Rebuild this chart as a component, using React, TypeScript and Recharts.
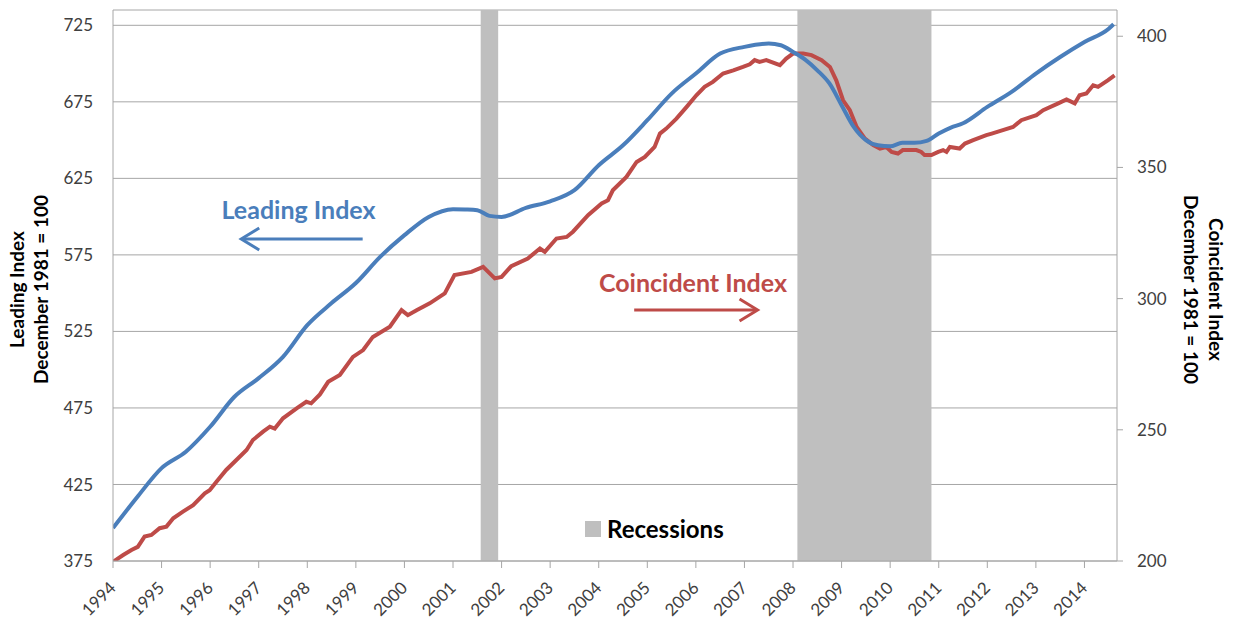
import React from 'react'
import {
  ComposedChart,
  Line,
  XAxis,
  YAxis,
  CartesianGrid,
  ReferenceArea,
  ReferenceLine,
  ReferenceDot,
  Legend,
} from 'recharts'

// Leading index (left axis), sampled dates as fractional years
const leadYears = [
  1994, 1994.5, 1995, 1995.5, 1996, 1996.5, 1997, 1997.5, 1998, 1998.5, 1999, 1999.5,
  2000, 2000.5, 2001, 2001.25, 2001.5, 2001.75, 2002, 2002.5, 2003, 2003.5, 2004, 2004.5,
  2005, 2005.5, 2006, 2006.5, 2007, 2007.5, 2007.75, 2008, 2008.25, 2008.5, 2008.75,
  2009, 2009.25, 2009.5, 2009.75, 2010, 2010.25, 2010.5, 2010.75, 2011, 2011.25, 2011.5,
  2012, 2012.5, 2013, 2013.5, 2014, 2014.5, 2014.6,
]
const leading = [
  396.5, 416.8, 435.7, 446.4, 462.7, 482.3, 494.5, 508.4, 529.1, 543.5, 556.6, 573.7,
  587.9, 599.8, 604.9, 604.7, 604.2, 600.5, 599.8, 605.7, 610, 617.3, 633.6, 646.6,
  663, 680.4, 693.5, 706.5, 710.9, 713.1, 712, 707.6, 702.6, 695.6, 687,
  672.8, 658.6, 650, 646.6, 646, 648.2, 648.2, 649.5, 654.3, 658.2, 661,
  671.7, 681.5, 693.5, 704.3, 714.1, 722.8, 725.7,
]

// Coincident index (right axis)
const coinYears = [
  1994, 1994.21, 1994.38, 1994.51, 1994.65, 1994.79, 1994.96, 1995.1, 1995.24, 1995.44,
  1995.65, 1995.89, 1995.99, 1996.13, 1996.33, 1996.54, 1996.75, 1996.88, 1997.09, 1997.23,
  1997.33, 1997.5, 1997.78, 1997.98, 1998.08, 1998.26, 1998.43, 1998.67, 1998.94, 1999.15,
  1999.35, 1999.7, 1999.94, 2000.07, 2000.25, 2000.52, 2000.83, 2001.03, 2001.38, 2001.62,
  2001.86, 2002, 2002.2, 2002.54, 2002.79, 2002.89, 2003.13, 2003.34, 2003.47, 2003.78,
  2004.06, 2004.19, 2004.29, 2004.57, 2004.78, 2004.95, 2005.15, 2005.26, 2005.39, 2005.6,
  2005.81, 2006.01, 2006.18, 2006.35, 2006.56, 2006.77, 2006.97, 2007.11, 2007.21, 2007.31,
  2007.45, 2007.73, 2007.86, 2008, 2008.21, 2008.38, 2008.59, 2008.76, 2008.89, 2009.03,
  2009.17, 2009.31, 2009.48, 2009.65, 2009.79, 2009.92, 2010.03, 2010.16, 2010.26, 2010.54,
  2010.64, 2010.71, 2010.85, 2010.99, 2011.09, 2011.16, 2011.23, 2011.43, 2011.54, 2011.71,
  2011.98, 2012.09, 2012.32, 2012.53, 2012.7, 2013.01, 2013.15, 2013.46, 2013.63, 2013.8,
  2013.9, 2014.04, 2014.18, 2014.28, 2014.48, 2014.62,
]
const coincident = [
  199.7, 202.3, 204.2, 205.4, 209.3, 209.9, 212.5, 213.1, 216.3, 218.8,
  221.3, 225.8, 227, 230.2, 234.7, 238.5, 242.3, 246.1, 249.3, 251.2,
  250.5, 254.4, 258.2, 260.7, 260.1, 263.5, 268.3, 270.9, 277.8, 280.4,
  285.4, 289.3, 295.6, 293.7, 295.6, 298.2, 302, 309, 310.2, 312.1,
  307.7, 308.3, 312.4, 315.3, 319.1, 317.8, 322.9, 323.5, 325.5, 331.8,
  336.3, 337.5, 341.3, 346.4, 352.1, 354, 357.8, 362.9, 364.8, 368.6,
  373.1, 377.5, 380.7, 382.6, 385.8, 387, 388.3, 389.3, 390.9, 390.2,
  390.9, 389, 391.5, 393.4, 393.4, 392.8, 390.9, 388.3, 383.2, 375.6,
  371.8, 365.4, 361, 358.5, 357.2, 357.8, 355.9, 355.3, 356.6, 356.6,
  355.9, 354.7, 354.7, 355.9, 356.6, 355.9, 357.8, 357.2, 359.1, 360.4,
  362.3, 362.9, 364.2, 365.4, 368, 369.9, 371.8, 374.4, 375.9, 374.4,
  377.5, 378.2, 381.3, 380.7, 383.2, 385.1,
]

const recessionStart = [2001.57, 2008.09]
const recessionEnd = [2001.93, 2010.85]

const yearTicks = [
  1994, 1995, 1996, 1997, 1998, 1999, 2000, 2001, 2002, 2003, 2004,
  2005, 2006, 2007, 2008, 2009, 2010, 2011, 2012, 2013, 2014,
]
const leftTicks = [375, 425, 475, 525, 575, 625, 675, 725]
const rightTicks = [200, 250, 300, 350, 400]

const leadData = leadYears.map((t, i) => ({ t, v: leading[i] }))
const coinData = coinYears.map((t, i) => ({ t, v: coincident[i] }))

const BLUE = '#4A7EBB'
const RED = '#BE4B48'
const GRID = '#A6A6A6'
const FONT = 'Lato, "Open Sans", sans-serif'

const YearTick = ({ x, y, payload }: any) => {
  const tx = x + 4
  const ty = y + 19
  return (
    <text x={tx} y={ty} transform={`rotate(-45 ${tx} ${ty})`} textAnchor="end" fontSize={17} fill="#404040" fontFamily={FONT}>
      {payload.value}
    </text>
  )
}

const Arrow = (color: string) => (props: any) => {
  const { x1, y1, x2, y2 } = props
  const dx = x2 - x1
  const dy = y2 - y1
  const len = Math.sqrt(dx * dx + dy * dy) || 1
  const ux = dx / len
  const uy = dy / len
  const bx = x2 - ux * 18
  const by = y2 - uy * 18
  return (
    <g>
      <line x1={x1} y1={y1} x2={x2 - ux * 2} y2={y2 - uy * 2} stroke={color} strokeWidth={3} />
      <polyline
        points={`${bx - uy * 11},${by + ux * 11} ${x2},${y2} ${bx + uy * 11},${by - ux * 11}`}
        fill="none"
        stroke={color}
        strokeWidth={3}
      />
    </g>
  )
}

const LeftTitle = ({ viewBox }: any) => {
  const cy = viewBox.y + viewBox.height / 2 + 4
  return (
    <g fontFamily={FONT} fontWeight="bold" fontSize={19} fill="#000">
      <text x={24} y={cy} transform={`rotate(-90 24 ${cy})`} textAnchor="middle">Leading Index</text>
      <text x={48} y={cy} transform={`rotate(-90 48 ${cy})`} textAnchor="middle">December 1981 = 100</text>
    </g>
  )
}

const RightTitle = ({ viewBox }: any) => {
  const cy = viewBox.y + viewBox.height / 2 + 4
  return (
    <g fontFamily={FONT} fontWeight="bold" fontSize={19} fill="#000">
      <text x={1209} y={cy} transform={`rotate(90 1209 ${cy})`} textAnchor="middle">Coincident Index</text>
      <text x={1184} y={cy} transform={`rotate(90 1184 ${cy})`} textAnchor="middle">December 1981 = 100</text>
    </g>
  )
}

const RecessionLegend = () => (
  <div style={{ display: 'flex', alignItems: 'center', fontFamily: FONT }}>
    <span style={{ width: 16, height: 16, background: '#BFBFBF', marginRight: 6 }} />
    <span style={{ fontSize: 24, fontWeight: 'bold', color: '#000' }}>Recessions</span>
  </div>
)

export default function App() {
  return (
    <div style={{ position: 'absolute', left: 0, top: 0, background: '#fff' }}>
      <ComposedChart width={1234} height={621} margin={{ top: 10, right: 0, bottom: 0, left: 0 }}>
        <CartesianGrid yAxisId="left" vertical={false} stroke={GRID} />
        {recessionStart.map((s, i) => (
          <ReferenceArea key={i} yAxisId="left" x1={s} x2={recessionEnd[i]} fill="#BFBFBF" fillOpacity={1} stroke="none" />
        ))}
        <XAxis
          dataKey="t"
          type="number"
          domain={[1994, 2014.67]}
          ticks={yearTicks}
          allowDataOverflow
          height={60}
          tick={<YearTick />}
          tickSize={7}
          axisLine={{ stroke: GRID }}
          tickLine={{ stroke: GRID }}
          interval={0}
        />
        <YAxis
          yAxisId="left"
          orientation="left"
          width={113}
          domain={[375, 735]}
          ticks={leftTicks}
          allowDataOverflow
          tickLine={false}
          tickSize={18}
          axisLine={{ stroke: GRID }}
          tick={{ fontSize: 17, fill: '#404040', fontFamily: FONT }}
          interval={0}
          label={{ content: <LeftTitle /> }}
        />
        <YAxis
          yAxisId="right"
          orientation="right"
          width={117}
          domain={[200, 410]}
          ticks={rightTicks}
          allowDataOverflow
          tickSize={6}
          tickMargin={14}
          axisLine={{ stroke: GRID }}
          tickLine={{ stroke: GRID }}
          tick={{ fontSize: 17, fill: '#404040', fontFamily: FONT, textAnchor: 'start' }}
          interval={0}
          label={{ content: <RightTitle /> }}
        />
        <Line
          yAxisId="right"
          data={coinData}
          dataKey="v"
          stroke={RED}
          strokeWidth={4}
          dot={false}
          activeDot={false}
          type="linear"
          isAnimationActive={false}
        />
        <Line
          yAxisId="left"
          data={leadData}
          dataKey="v"
          stroke={BLUE}
          strokeWidth={4}
          dot={false}
          activeDot={false}
          type="monotone"
          isAnimationActive={false}
        />
        <ReferenceLine
          yAxisId="left"
          segment={[{ x: 1999.14, y: 585.4 }, { x: 1996.64, y: 585.4 }]}
          shape={Arrow(BLUE)}
          ifOverflow="visible"
        />
        <ReferenceLine
          yAxisId="left"
          segment={[{ x: 2004.73, y: 539 }, { x: 2007.27, y: 539 }]}
          shape={Arrow(RED)}
          ifOverflow="visible"
        />
        <ReferenceDot
          yAxisId="left"
          x={1997.82}
          y={604.3}
          r={0}
          fill="none"
          stroke="none"
          ifOverflow="visible"
          label={{ value: 'Leading Index', position: 'center', fill: BLUE, fontSize: 25, fontWeight: 'bold', fontFamily: FONT }}
        />
        <ReferenceDot
          yAxisId="left"
          x={2005.94}
          y={556.6}
          r={0}
          fill="none"
          stroke="none"
          ifOverflow="visible"
          label={{ value: 'Coincident Index', position: 'center', fill: RED, fontSize: 25, fontWeight: 'bold', fontFamily: FONT }}
        />
        <Legend
          layout="horizontal"
          verticalAlign="middle"
          align="center"
          content={<RecessionLegend />}
          wrapperStyle={{ left: 585, top: 514, width: 'auto', bottom: 'auto', right: 'auto' }}
        />
      </ComposedChart>
    </div>
  )
}
